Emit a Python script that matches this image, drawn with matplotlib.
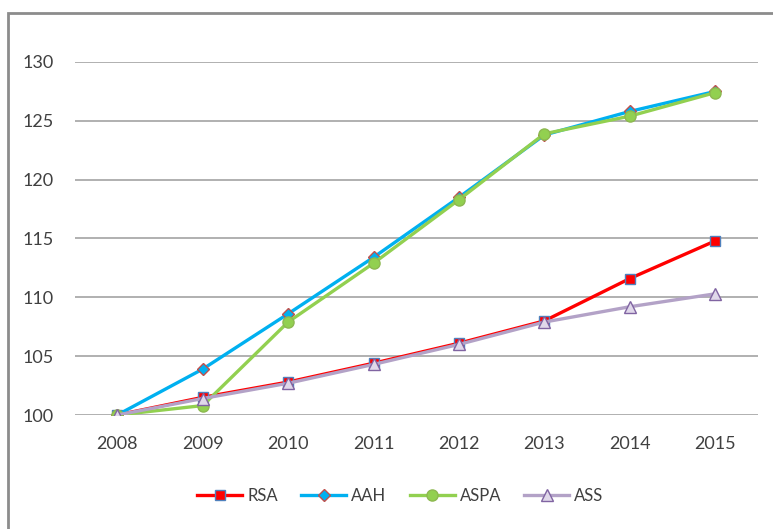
import matplotlib.pyplot as plt
from matplotlib.patches import Rectangle

# indices base 100 en 2008
annees = ["2008", "2009", "2010", "2011", "2012", "2013", "2014", "2015"]
rsa = [100, 101.5, 102.8, 104.4, 106.1, 108.0, 111.6, 114.8]
aah = [100, 103.9, 108.6, 113.4, 118.5, 123.8, 125.8, 127.5]
aspa = [100, 100.8, 107.9, 112.9, 118.3, 123.9, 125.4, 127.4]
ass = [100, 101.4, 102.7, 104.3, 106.0, 107.9, 109.2, 110.3]

plt.rcParams["font.family"] = ["Lato", "DejaVu Sans"]

fig = plt.figure(figsize=(7.73, 5.29), dpi=100)
ax = fig.add_axes([0.0964, 0.2155, 0.8842, 0.6673])

# cadre du graphique
fig.patches.append(Rectangle((0.0105, -0.1), 1.2, 0.1 + 0.975, transform=fig.transFigure,
                             fill=False, edgecolor="#8c8c8c", linewidth=2))

x = range(len(annees))
ax.plot(x, rsa, color="#FF0000", lw=2.4, marker="s", ms=7,
        mfc="#FF0000", mec="#4F81BD", mew=1, label="RSA")
ax.plot(x, aah, color="#00B0F0", lw=2.4, marker="D", ms=6,
        mfc="#00B0F0", mec="#C0504D", mew=1, label="AAH")
ax.plot(x, aspa, color="#92D050", lw=2.4, marker="o", ms=8,
        mfc="#92D050", mec="#8DB850", mew=1, label="ASPA")
ax.plot(x, ass, color="#B3A2C7", lw=2.4, marker="^", ms=8,
        mfc="#E0D8EA", mec="#8064A2", mew=1, label="ASS")

ax.set_xlim(-0.5, len(annees) - 0.5)
ax.set_ylim(100, 130)
ax.set_yticks(range(100, 131, 5))
ax.set_xticks(list(x))
ax.set_xticklabels(annees)
ax.grid(axis="y", color="#B0B0B0", linewidth=1.4)
ax.set_axisbelow(True)
for s in ax.spines.values():
    s.set_visible(False)
ax.tick_params(length=0, labelsize=13, colors="#404040")
ax.tick_params(axis="y", pad=15)
ax.tick_params(axis="x", pad=15)

ax.legend(loc="center", bbox_to_anchor=(0.518, 1 - 496 / 529),
          bbox_transform=fig.transFigure, ncol=4, frameon=False,
          fontsize=12, labelcolor="#404040", handlelength=2.7,
          handletextpad=0.3, columnspacing=1.4)

fig.savefig("out.png", dpi=100, facecolor="white")
